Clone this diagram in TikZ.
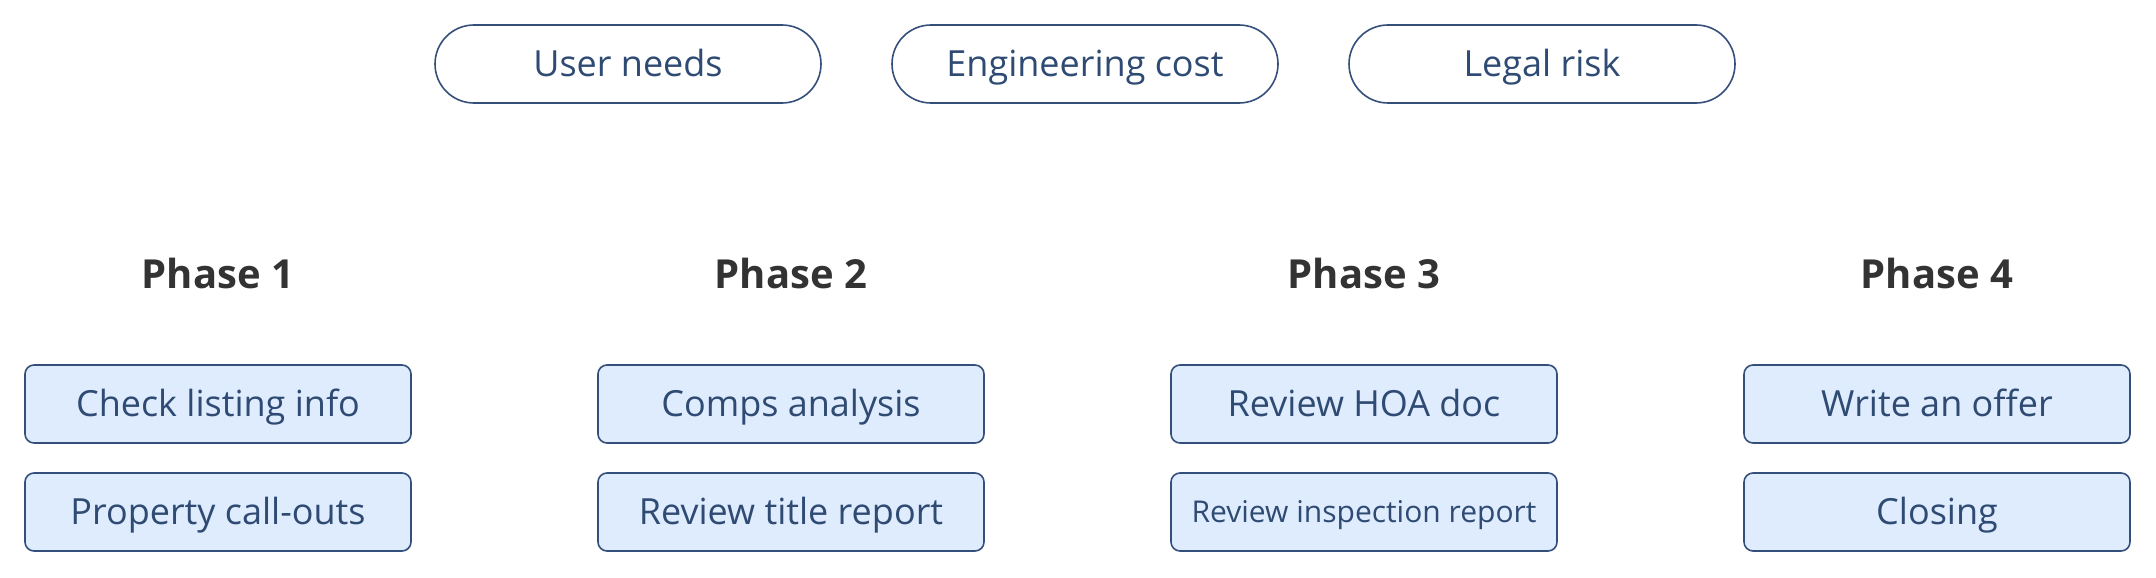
\documentclass[tikz,border=0pt]{standalone}
\usepackage{fontspec}
\setmainfont{Open Sans}
\definecolor{txtblue}{HTML}{2F4B73}
\definecolor{edgeblue}{HTML}{34507A}
\definecolor{boxfill}{HTML}{DFECFD}
\definecolor{phasegray}{HTML}{333333}
\begin{document}
\begin{tikzpicture}[x=1pt,y=-1pt,
  base/.style={draw=edgeblue, line width=1.6pt, minimum width=386pt, minimum height=78pt,
    inner sep=0pt, text=txtblue, font=\fontsize{36}{42}\selectfont,
    text height=35.7pt, text depth=10pt},
  pill/.style={base, fill=white, rounded corners=39pt},
  taskbox/.style={base, fill=boxfill, rounded corners=9pt},
  phase/.style={text=phasegray, font=\bfseries\fontsize{40}{46}\selectfont, inner sep=0pt,
    text height=38.6pt, text depth=10pt}]
\useasboundingbox (0,0) rectangle (2156,578);
\node[pill] (u) at (628,64) {User needs};
\node[pill] (e) at (1085,64) {Engineering cost};
\node[pill] (l) at (1542,64) {Legal risk};
\node[phase] (p1) at (218,274) {Phase 1};
\node[phase] (p2) at (791,274) {Phase 2};
\node[phase] (p3) at (1364,274) {Phase 3};
\node[phase] (p4) at (1937,274) {Phase 4};
\node[taskbox] (a1) at (218,404) {Check listing info};
\node[taskbox] (a2) at (218,512) {Property call-outs};
\node[taskbox] (b1) at (791,404) {Comps analysis};
\node[taskbox] (b2) at (791,512) {Review title report};
\node[taskbox] (c1) at (1364,404) {Review HOA doc};
\node[taskbox, font=\fontsize{30}{36}\selectfont, text height=31.4pt] (c2) at (1364,512) {Review inspection report};
\node[taskbox] (d1) at (1937,404) {Write an offer};
\node[taskbox] (d2) at (1937,512) {Closing};
\end{tikzpicture}
\end{document}
